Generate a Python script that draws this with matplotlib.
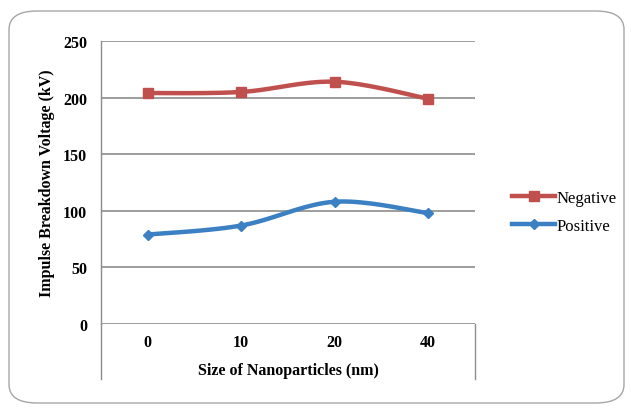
import numpy as np
import matplotlib
matplotlib.use("Agg")
import matplotlib.pyplot as plt
from matplotlib.patches import FancyBboxPatch
from matplotlib.lines import Line2D

# datos
categorias = ["0", "10", "20", "40"]
negativo = [204, 205, 214, 199]
positivo = [79, 87, 108, 98]

rojo = "#C0504D"
azul = "#3A80C3"
gris = "#8C8C8C"

plt.rcParams['font.family'] = ['Liberation Serif', 'DejaVu Serif']


def curva_suave(x, y, pasos=30):
    """Curva tipo Catmull-Rom (como el suavizado de Excel) que pasa por los puntos."""
    x = np.asarray(x, float)
    y = np.asarray(y, float)
    xs, ys = [], []
    n = len(x)
    for i in range(n - 1):
        p0 = np.array([x[max(i - 1, 0)], y[max(i - 1, 0)]])
        p1 = np.array([x[i], y[i]])
        p2 = np.array([x[i + 1], y[i + 1]])
        p3 = np.array([x[min(i + 2, n - 1)], y[min(i + 2, n - 1)]])
        c1 = p1 + (p2 - p0) / 6
        c2 = p2 - (p3 - p1) / 6
        t = np.linspace(0, 1, pasos)[:, None]
        b = ((1 - t) ** 3) * p1 + 3 * ((1 - t) ** 2) * t * c1 + 3 * (1 - t) * t ** 2 * c2 + t ** 3 * p2
        xs.extend(b[:, 0])
        ys.extend(b[:, 1])
    return np.array(xs), np.array(ys)


W, H = 631, 410
fig = plt.figure(figsize=(W / 100, H / 100), dpi=100)
fig.patch.set_facecolor("white")

# borde redondeado exterior
borde = FancyBboxPatch((9 / W, 6 / H), 615 / W, 392 / H,
                       boxstyle="round,pad=0,rounding_size=0.045",
                       transform=fig.transFigure, facecolor="none",
                       edgecolor="#A6A6A6", linewidth=1.0)
fig.patches.append(borde)

ax = fig.add_axes([101 / W, 85 / H, 374 / W, 283 / H])
x = np.arange(len(categorias)) + 0.5

xn, yn = curva_suave(x, negativo)
xp, yp = curva_suave(x, positivo)
ax.plot(xn, yn, color=rojo, linewidth=3.2, solid_capstyle="round", zorder=3)
ax.plot(x, negativo, linestyle="none", marker="s", markersize=7.5, color=rojo, zorder=4)
ax.plot(xp, yp, color=azul, linewidth=3.2, solid_capstyle="round", zorder=3)
ax.plot(x, positivo, linestyle="none", marker="D", markersize=5.5, color=azul, zorder=4)

ax.set_xlim(0, len(categorias))
ax.set_ylim(0, 250)
ax.set_yticks(np.arange(0, 251, 50))
ax.set_xticks(x)
ax.set_xticklabels(categorias)
ax.grid(axis="y", color=gris, linewidth=1.2)
ax.set_axisbelow(True)
for s in ["top", "right", "bottom"]:
    ax.spines[s].set_visible(False)
ax.spines["left"].set_color(gris)
ax.spines["left"].set_linewidth(1.0)
ax.tick_params(length=0, labelsize=11.5)
ax.tick_params(axis="y", pad=10)
ax.tick_params(axis="x", pad=7)
for lab in ax.get_xticklabels() + ax.get_yticklabels():
    lab.set_fontweight("bold")

# lineas bajo el eje de categorias (estilo Excel)
ext = -55 / 283
ax.plot([0, 0], [0, ext], transform=ax.transAxes, color=gris, linewidth=1.0, clip_on=False)
ax.plot([1, 1], [0, ext], transform=ax.transAxes, color=gris, linewidth=1.0, clip_on=False)

ax.set_xlabel("Size of Nanoparticles (nm)", fontsize=11.5, fontweight="bold", labelpad=9)
ax.set_ylabel("Impulse Breakdown Voltage (kV)", fontsize=11.5, fontweight="bold", labelpad=6)

# leyenda
h1 = Line2D([], [], color=rojo, linewidth=3.2, marker="s", markersize=7.5)
h2 = Line2D([], [], color=azul, linewidth=3.2, marker="D", markersize=5.5)
fig.legend([h1, h2], ["Negative", "Positive"], loc="center left",
           bbox_to_anchor=(497 / W, 1 - 213 / H), frameon=False,
           fontsize=12, handlelength=2.6, handletextpad=0.05, labelspacing=0.7)

fig.savefig("out.png", dpi=100)
